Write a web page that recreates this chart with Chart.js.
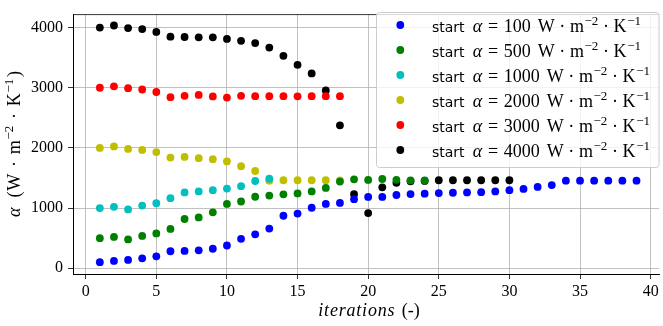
<!DOCTYPE html>
<html><head><meta charset="utf-8">
<script src="https://cdn.jsdelivr.net/npm/chart.js@4"></script>
<style>html,body{margin:0;padding:0;background:#fff}#wrap{width:663px;height:326px;position:relative}</style>
</head><body><div id="wrap"><canvas id="c"></canvas></div>
<script>
// ---- data ----
const iterations = [1,2,3,4,5,6,7,8,9,10,11,12,13,14,15,16,17,18,19,20,21,22,23,24,25,26,27,28,29,30,31,32,33,34,35,36,37,38,39];
const start100  = [100,122,138,165,197,282,287,298,324,378,489,563,659,872,909,1005,1069,1085,1148,1185,1185,1217,1233,1240,1249,1255,1260,1265,1276,1297,1319,1351,1383,1456,1456,1456,1456,1456,1456];
const start500  = [500,521,478,537,579,654,818,845,930,1069,1109,1188,1207,1228,1244,1276,1335,1440,1478,1467,1483,1470,1460,1460];
const start1000 = [1000,1021,978,1042,1080,1164,1260,1276,1297,1324,1364,1450,1488];
const start2000 = [2000,2025,1983,1967,1930,1839,1850,1829,1813,1776,1695,1616,1456,1462,1462,1462,1462,1460];
const start3000 = [3000,3024,2993,2971,2929,2844,2865,2881,2855,2836,2865,2860,2860,2860,2858,2860,2860,2860];
const start4000 = [4000,4035,3992,3976,3928,3849,3844,3839,3839,3812,3780,3743,3668,3530,3381,3238,2955,2376,1230,917,1345,1419,1446,1451,1462,1462,1462,1462,1462,1462];
const startValues = [100,500,1000,2000,3000,4000];
const seriesColors = ['#0000ff','#008000','#00bfbf','#bfbf00','#ff0000','#000000'];
const xTicks = [0,5,10,15,20,25,30,35,40];
const yTicks = [0,1000,2000,3000,4000];

const allSeries = [start100,start500,start1000,start2000,start3000,start4000];
const datasets = allSeries.map((vals,i)=>({
  label: 'start α = ' + startValues[i] + ' W·m⁻²·K⁻¹',
  data: vals.map((v,j)=>({x: iterations[j], y: v})),
  backgroundColor: seriesColors[i],
  borderColor: seriesColors[i],
  pointRadius: 3.9,
  pointHoverRadius: 3.9,
  borderWidth: 0,
  showLine: false
}));

const SANS = '14px "DejaVu Sans"';
const MATH = '18px "Liberation Serif"';
const MATHI = 'italic 18px "Liberation Serif"';
const SUP = '13px "Liberation Serif"';

// draw a run of tokens: {t, f, g (gap after), dy}
function runWidth(ctx, toks, k){
  let w = 0;
  toks.forEach(o=>{ ctx.font = o.f; w += ctx.measureText(o.t).width + (o.g||0)*k; });
  return w;
}
function drawRun(ctx, toks, x, y, k){
  ctx.textAlign = 'left';
  toks.forEach(o=>{
    ctx.font = o.f;
    ctx.fillText(o.t, x, y + (o.dy||0));
    x += ctx.measureText(o.t).width + (o.g||0)*k;
  });
}
function unitToks(){
  return [
    {t:'W', f:MATH, g:4},
    {t:'·', f:MATH, g:4},
    {t:'m', f:MATH, g:0.5},
    {t:'−2', f:SUP, g:4, dy:-7},
    {t:'·', f:MATH, g:4},
    {t:'K', f:MATH, g:0.5},
    {t:'−1', f:SUP, g:0, dy:-7}
  ];
}
function gapScale(ctx, toks, target){
  const w1 = runWidth(ctx, toks, 1), w0 = runWidth(ctx, toks, 0);
  return Math.max(0.3, (target - w0) / (w1 - w0));
}

const decorPlugin = {
  id: 'decor',
  afterDraw(chart){
    const ctx = chart.ctx;
    const ca = chart.chartArea;
    ctx.save();
    // top spine
    ctx.strokeStyle = '#000'; ctx.lineWidth = 0.8;
    ctx.beginPath(); ctx.moveTo(ca.left, ca.top); ctx.lineTo(ca.right, ca.top); ctx.stroke();

    // legend frame
    const lx = 376, ly = 12, lw = 282.5, lh = 155;
    ctx.beginPath();
    if (ctx.roundRect) ctx.roundRect(lx+0.5, ly+0.5, lw, lh, 3); else ctx.rect(lx+0.5, ly+0.5, lw, lh);
    ctx.fillStyle = 'rgba(255,255,255,0.8)'; ctx.fill();
    ctx.strokeStyle = '#cccccc'; ctx.lineWidth = 1; ctx.stroke();

    ctx.textBaseline = 'alphabetic';
    const legToks = v => [
      {t:'start', f:SANS, g:7},
      {t:'α', f:MATHI, g:5},
      {t:'=', f:MATH, g:5},
      {t:String(v), f:MATH, g:6}
    ].concat(unitToks());
    const kLeg = gapScale(ctx, legToks(startValues[0]), 641 - 432);
    startValues.forEach((v,i)=>{
      const cy = 25 + i*25;
      ctx.fillStyle = seriesColors[i];
      ctx.beginPath(); ctx.arc(400.3, cy, 3.9, 0, Math.PI*2); ctx.fill();
      ctx.fillStyle = '#000';
      drawRun(ctx, legToks(v), 432, cy + 6.5, kLeg);
    });

    // y axis title
    const yToks = [
      {t:'α', f:MATHI, g:6},
      {t:'(', f:MATH, g:0.5}
    ].concat(unitToks()).concat([{t:')', f:MATH, g:0}]);
    yToks[yToks.length-2].g = 1;
    const kY = gapScale(ctx, yToks, 146);
    ctx.save();
    ctx.translate(20, 217);
    ctx.rotate(-Math.PI/2);
    drawRun(ctx, yToks, 0, 0, kY);
    ctx.restore();

    // x axis title
    ctx.font = MATHI; ctx.textAlign = 'left';
    const w0 = ctx.measureText('iterations').width;
    const ls = Math.max(0, (77 - w0) / 10);
    if ('letterSpacing' in ctx) ctx.letterSpacing = ls + 'px';
    ctx.fillText('iterations', 318.3, 316);
    if ('letterSpacing' in ctx) ctx.letterSpacing = '0px';
    ctx.font = MATH;
    ctx.fillText('(-)', 401.7, 316);
    ctx.restore();
  }
};

new Chart(document.getElementById('c'), {
  type: 'scatter',
  data: { datasets },
  plugins: [decorPlugin],
  options: {
    responsive: true,
    maintainAspectRatio: false,
    animation: false,
    events: [],
    layout: { padding: { top: 3, left: 0, right: 0, bottom: 0 } },
    plugins: { legend: { display: false }, tooltip: { enabled: false } },
    scales: {
      x: {
        type: 'linear', min: -0.9, max: 40.6,
        afterFit(s){ s.height = 52; },
        afterBuildTicks(s){ s.ticks = xTicks.map(v=>({value:v})); },
        grid: { color: '#b0b0b0', lineWidth: 0.8, tickColor: '#000', tickLength: 5, tickWidth: 0.8 },
        border: { color: '#000', width: 1 },
        ticks: { color: '#000', font: { family: 'Liberation Serif', size: 16 }, padding: 3, maxRotation: 0, autoSkip: false,
                 callback: v => String(v) }
      },
      y: {
        type: 'linear', min: -96, max: 4216,
        afterFit(s){ s.width = 73; },
        afterBuildTicks(s){ s.ticks = yTicks.map(v=>({value:v})); },
        grid: { color: '#b0b0b0', lineWidth: 0.8, tickColor: '#000', tickLength: 5, tickWidth: 0.8 },
        border: { color: '#000', width: 1 },
        ticks: { color: '#000', font: { family: 'Liberation Serif', size: 16 }, padding: 5, autoSkip: false,
                 callback: v => String(v) }
      }
    }
  }
});
</script>
</body></html>
